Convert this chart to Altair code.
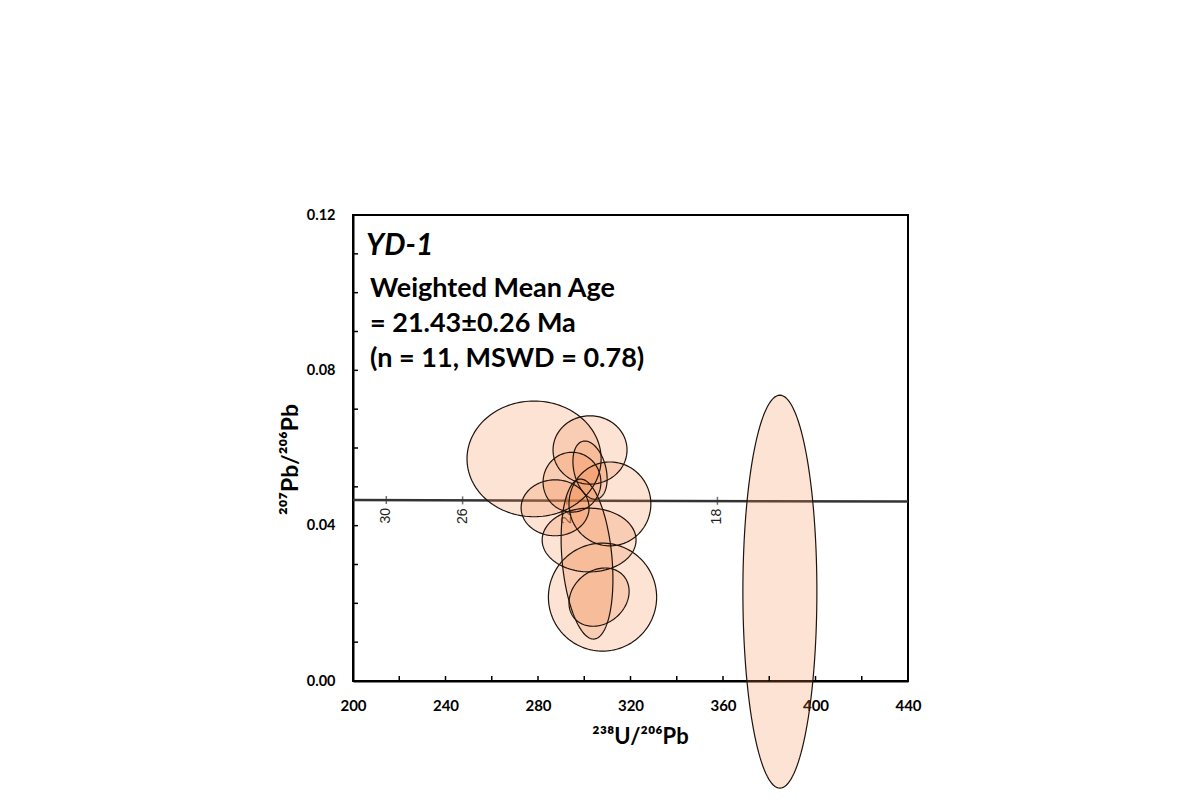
import altair as alt
import numpy as np
import pandas as pd

# ---------------- data ----------------
# error ellipses: centre, half-widths (x, y) and correlation
ell_id = [1, 2, 3, 4, 5, 6, 7, 8, 9, 10, 11]
ell_cx = [278.3, 302.5, 302.5, 294.7, 311.1, 287.4, 302.1, 301.2, 307.9, 306.4, 384.6]
ell_sx = [29.0, 16.0, 7.4, 12.5, 17.7, 14.7, 20.3, 11.2, 23.4, 13.0, 16.0]
ell_cy = [0.0572, 0.0595, 0.0543, 0.0512, 0.0456, 0.0446, 0.0363, 0.0314, 0.0216, 0.0216, 0.0230]
ell_sy = [0.0149, 0.0088, 0.0075, 0.0077, 0.0108, 0.0072, 0.0082, 0.0206, 0.0139, 0.0075, 0.0506]
ell_rho = [0.0, 0.0, -0.3, 0.0, 0.0, 0.0, 0.0, -0.25, 0.0, 0.2, 0.0]

# concordia curve (nearly flat over this range)
conc_x = [200, 440]
conc_y = [0.0466, 0.0462]

# age marks on concordia (Ma)
age_labels = ["30", "26", "22", "18"]
age_x = [214.4, 247.4, 292.5, 357.6]
age_y = [0.0466, 0.0465, 0.0465, 0.0464]

# axes
x_label_values = [200, 240, 280, 320, 360, 400, 440]
x_tick_values = [220, 240, 260, 280, 300, 320, 340, 360, 380, 400, 420]
y_label_values = [0.00, 0.04, 0.08, 0.12]
y_tick_values = [0.01, 0.02, 0.03, 0.04, 0.05, 0.06, 0.07, 0.08, 0.09, 0.10, 0.11]

sample_name = "YD-1"
annot_lines = ["Weighted Mean Age", "= 21.43\u00b10.26 Ma", "(n = 11, MSWD = 0.78)"]

# ---------------- build tables ----------------
t = np.linspace(0, 2 * np.pi, 145)
rows = []
for k, cx, sx, cy, sy, r in zip(ell_id, ell_cx, ell_sx, ell_cy, ell_sy, ell_rho):
    for i, tt in enumerate(t):
        rows.append({
            "id": k, "i": i,
            "x": cx + sx * np.cos(tt),
            "y": cy + sy * (r * np.cos(tt) + np.sqrt(1 - r * r) * np.sin(tt)),
        })
ell_df = pd.DataFrame(rows)
conc_df = pd.DataFrame({"x": conc_x, "y": conc_y})
age_df = pd.DataFrame({"x": age_x, "y": age_y, "label": age_labels})
xt_df = pd.DataFrame({"x": x_tick_values})
yt_df = pd.DataFrame({"y": y_tick_values})

FONT = "Lato, DejaVu Sans, sans-serif"
W, H = 555, 466

x_scale = alt.Scale(domain=[200, 440], nice=False, zero=False)
y_scale = alt.Scale(domain=[0, 0.12], nice=False, zero=False)

x_axis = alt.Axis(values=x_label_values, format="d", ticks=False, tickSize=0, grid=False,
                  domainColor="black", domainWidth=2, labelFont=FONT, labelFontWeight="bold",
                  labelFontSize=15, labelColor="black", labelPadding=17, labelFlush=False,
                  labelOverlap=False, titleFont=FONT, titleFontWeight="bold", titleFontSize=22,
                  titleColor="black", titleX=287, titleY=62, titleBaseline="alphabetic",
                  titleAlign="center")
y_axis = alt.Axis(values=y_label_values, format=".2f", ticks=False, tickSize=0, grid=False,
                  domainColor="black", domainWidth=2, labelFont=FONT, labelFontWeight="bold",
                  labelFontSize=14.5, labelColor="black", labelPadding=18, labelFlush=False,
                  labelOverlap=False, titleFont=FONT, titleFontWeight="bold", titleFontSize=23,
                  titleColor="black", titleX=-56, titleY=244, titleAngle=270,
                  titleBaseline="alphabetic", titleAlign="center")

X_TITLE = "\u00b2\u00b3\u2078U/\u00b2\u2070\u2076Pb"
Y_TITLE = "\u00b2\u2070\u2077Pb/\u00b2\u2070\u2076Pb"


def X(field="x"):
    return alt.X(f"{field}:Q", scale=x_scale, axis=x_axis, title=X_TITLE)


def Y(field="y"):
    return alt.Y(f"{field}:Q", scale=y_scale, axis=y_axis, title=Y_TITLE)


conc = alt.Chart(conc_df).mark_line(color="#333333", strokeWidth=2.5, clip=False).encode(x=X(), y=Y())
ticks = alt.Chart(age_df).mark_tick(orient="vertical", size=8, thickness=1.5, color="#333333").encode(x=X(), y=Y())
age_text = alt.Chart(age_df).mark_text(angle=270, align="right", baseline="middle", yOffset=8,
                                       fontSize=14, font="Liberation Sans", color="#222222").encode(
    x=X(), y=Y(), text="label:N")

ell_fill = alt.Chart(ell_df).mark_line(fill="#f28a4a", fillOpacity=0.235, strokeOpacity=0,
                                       interpolate="linear", clip=False).encode(
    x=X(), y=Y(), detail="id:N", order="i:Q")
ell_line = alt.Chart(ell_df).mark_line(color="#1e140e", strokeWidth=1.2, interpolate="linear", clip=False).encode(
    x=X(), y=Y(), detail="id:N", order="i:Q")

xticks = alt.Chart(xt_df).mark_rule(color="black", strokeWidth=1.5).encode(
    x=X(), y=alt.value(H), y2=alt.value(H - 5))
yticks = alt.Chart(yt_df).mark_rule(color="black", strokeWidth=1.5).encode(
    y=Y(), x=alt.value(0), x2=alt.value(5))

name_df = pd.DataFrame({"t": [sample_name]})
name = alt.Chart(name_df).mark_text(font=FONT, fontSize=30, fontWeight="bold", fontStyle="italic",
                                    align="left", baseline="alphabetic", color="black").encode(
    x=alt.value(13), y=alt.value(40), text="t:N")

annots = []
for k, line in enumerate(annot_lines):
    annots.append(alt.Chart(pd.DataFrame({"t": [line]})).mark_text(
        font=FONT, fontSize=27, fontWeight="bold", align="left", baseline="alphabetic",
        color="black").encode(x=alt.value(17), y=alt.value(82 + 35 * k), text="t:N"))

chart = alt.layer(conc, ticks, age_text, ell_fill, ell_line, xticks, yticks, name, *annots).properties(
    width=W, height=H,
    autosize=alt.AutoSizeParams(type="none"),
    padding={"left": 345, "top": 207, "right": 270, "bottom": 117},
).configure_view(stroke="black", strokeWidth=2)

chart.save("out.html", embed_options={"renderer": "svg", "actions": False})
